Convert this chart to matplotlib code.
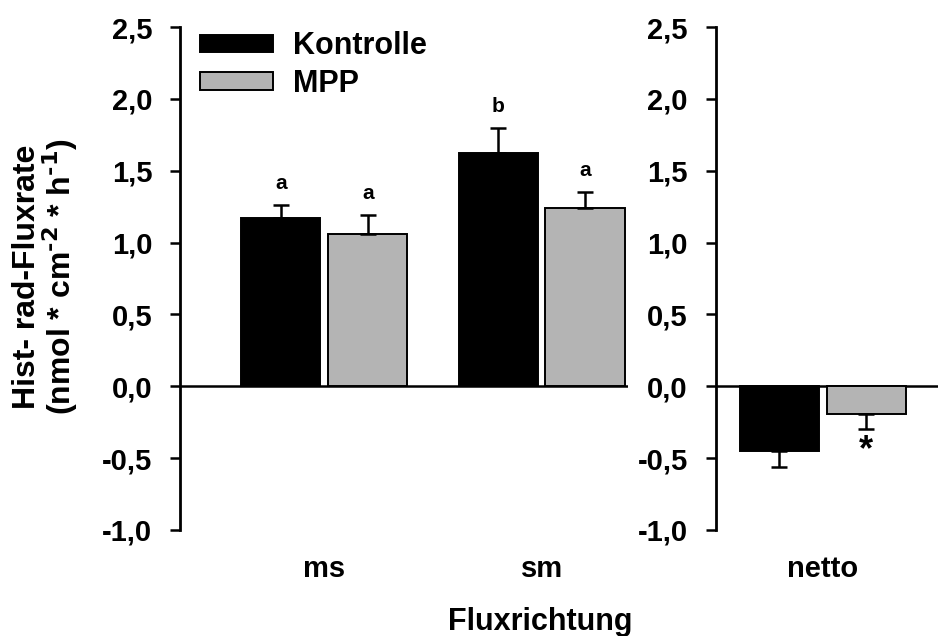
import matplotlib.pyplot as plt
import numpy as np

plt.rcParams['font.family'] = ['Liberation Sans', 'DejaVu Sans']
plt.rcParams['font.weight'] = 'bold'
plt.rcParams['mathtext.default'] = 'bf'

# Daten
groups = ['ms', 'sm']
kontrolle = [1.17, 1.62]
kontrolle_err = [0.09, 0.18]
mpp = [1.06, 1.24]
mpp_err = [0.13, 0.11]
labels_k = ['a', 'b']
labels_m = ['a', 'a']

netto_k = -0.45
netto_k_err = 0.11
netto_m = -0.19
netto_m_err = 0.11

fig = plt.figure(figsize=(9.38, 6.36), dpi=100)
ax1 = fig.add_axes([0.192, 0.1667, 0.478, 0.7908])
ax2 = fig.add_axes([0.763, 0.1667, 0.237, 0.7908])

w = 0.364
off = 0.2
x = np.arange(len(groups))
err_kw = dict(elinewidth=1.8, capthick=1.8, capsize=5.5, ecolor='black')
grau = '#b4b4b4'

ax1.bar(x - off, kontrolle, w, color='black', edgecolor='black', linewidth=1.4,
        yerr=[[0, 0], kontrolle_err], error_kw=err_kw, label='Kontrolle')
ax1.bar(x + off, mpp, w, color=grau, edgecolor='black', linewidth=1.4,
        yerr=[[0, 0], mpp_err], error_kw=err_kw, label='MPP')
for i in range(len(groups)):
    ax1.text(x[i] - off, kontrolle[i] + kontrolle_err[i] + 0.15, labels_k[i],
             ha='center', va='center', fontsize=15, fontweight='bold')
    ax1.text(x[i] + off, mpp[i] + mpp_err[i] + 0.15, labels_m[i],
             ha='center', va='center', fontsize=15, fontweight='bold')

ax2.bar([-off], [netto_k], w, color='black', edgecolor='black', linewidth=1.4,
        yerr=[[netto_k_err], [0]], error_kw=err_kw)
ax2.bar([off], [netto_m], w, color=grau, edgecolor='black', linewidth=1.4,
        yerr=[[netto_m_err], [0]], error_kw=err_kw)
ax2.text(off, -0.445, '*', ha='center', va='center',
         fontsize=26, fontweight='bold')

ax1.set_xlim(-0.664, 1.40)
ax2.set_xlim(-0.493, 0.53)

ticks = np.arange(-1.0, 2.51, 0.5)
for ax in (ax1, ax2):
    ax.set_ylim(-1.0, 2.5)
    ax.set_yticks(ticks)
    ax.set_yticklabels([f'{v:.1f}'.replace('.', ',') for v in ticks])
    ax.axhline(0, color='black', linewidth=1.8, zorder=0)
    for s in ('top', 'right', 'bottom'):
        ax.spines[s].set_visible(False)
    ax.spines['left'].set_linewidth(2)
    ax.tick_params(axis='y', direction='out', length=7, width=1.8, labelsize=21, pad=13)
    ax.tick_params(axis='x', length=0, labelsize=21, pad=18)
    for t in ax.get_yticklabels() + ax.get_xticklabels():
        t.set_fontweight('bold')

ax1.set_xticks(x)
ax1.set_xticklabels(groups, fontweight='bold')
ax2.set_xticks([0])
ax2.set_xticklabels(['netto'], fontweight='bold')

fig.text(0.029, 0.565, 'Hist- rad-Fluxrate', rotation=90, ha='center', va='center',
         fontsize=23, fontweight='bold')
fig.text(0.064, 0.565, '(nmol * cm$^{\\text{-2}}$ * h$^{\\text{-1}}$)', rotation=90,
         ha='center', va='center', fontsize=23, fontweight='bold')
fig.text(0.576, 0.022, 'Fluxrichtung', ha='center', va='center', fontsize=22, fontweight='bold')

leg = ax1.legend(loc='upper left', bbox_to_anchor=(-0.018, 1.046), frameon=False,
                 fontsize=22, handlelength=2.4, handleheight=0.52, labelspacing=0.25,
                 handletextpad=0.65)
for t in leg.get_texts():
    t.set_fontweight('bold')

fig.savefig('out.png', dpi=100)
